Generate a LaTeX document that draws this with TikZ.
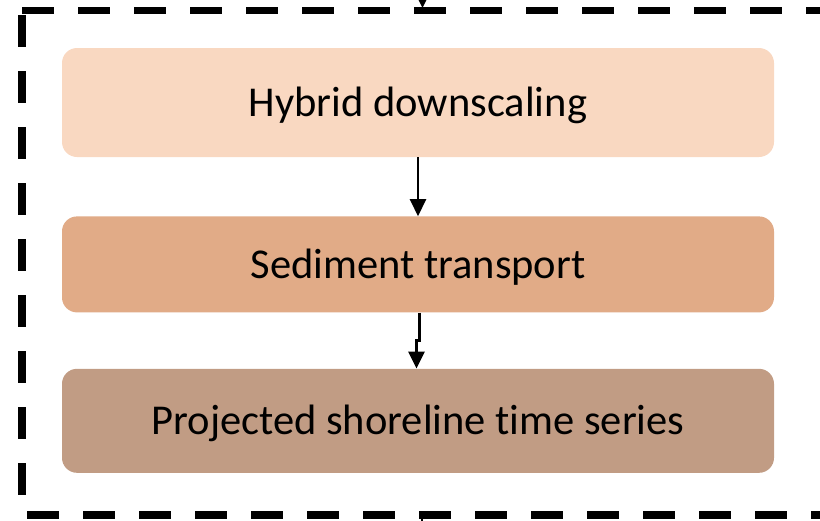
\documentclass[tikz,border=0pt]{standalone}
\usepackage{fontspec}
\setmainfont{Carlito}[Ligatures=NoCommon]
\usepackage{xcolor}
\usetikzlibrary{arrows.meta,positioning}
\definecolor{hybridfill}{HTML}{F9D8C1}
\definecolor{sedfill}{HTML}{E1AB87}
\definecolor{projfill}{HTML}{C19C84}

\begin{document}
\begin{tikzpicture}[
    x=1pt, y=-1pt,
    node distance=59pt,
    box/.style={rectangle, rounded corners=15pt, minimum width=712pt, inner sep=0pt, align=center, text height=37pt, text depth=9pt, font=\fontsize{42.5}{51}\selectfont},
    arrow/.style={->, >={Triangle[length=17pt,width=16pt]}, line width=2.5pt},
    frame/.style={line width=7.5pt, dash pattern=on 32pt off 24pt}
]
\useasboundingbox (0,0) rectangle (820,520);

% dashed frame, open to the right
\draw[frame] (22,10.5) -- (850,10.5) (22,15) -- (22,515) (27,515) -- (850,515);

\node[box, fill=hybridfill, minimum height=109pt] (hybrid) at (418,102.5) {Hybrid downscaling};
\node[box, fill=sedfill, minimum height=96pt, below=59pt of hybrid] (sed) {Sediment transport};
\node[box, fill=projfill, minimum height=104pt, below=56pt of sed] (proj) {Projected shoreline time series};

\draw[arrow] (hybrid) -- (sed);
\draw[arrow] ([xshift=1.5pt]sed.south) -- ++(0,28) -| ([xshift=-1.5pt]proj.north);

% links in and out of the frame
\coordinate (feedin) at (422.5,-12);
\coordinate (framein) at (422.5,8);
\draw[arrow] (feedin) -- (framein);
\coordinate (frameout) at (422,515);
\coordinate (feedout) at (422,530);
\draw[line width=2.5pt] (frameout) -- (feedout);
\end{tikzpicture}
\end{document}
